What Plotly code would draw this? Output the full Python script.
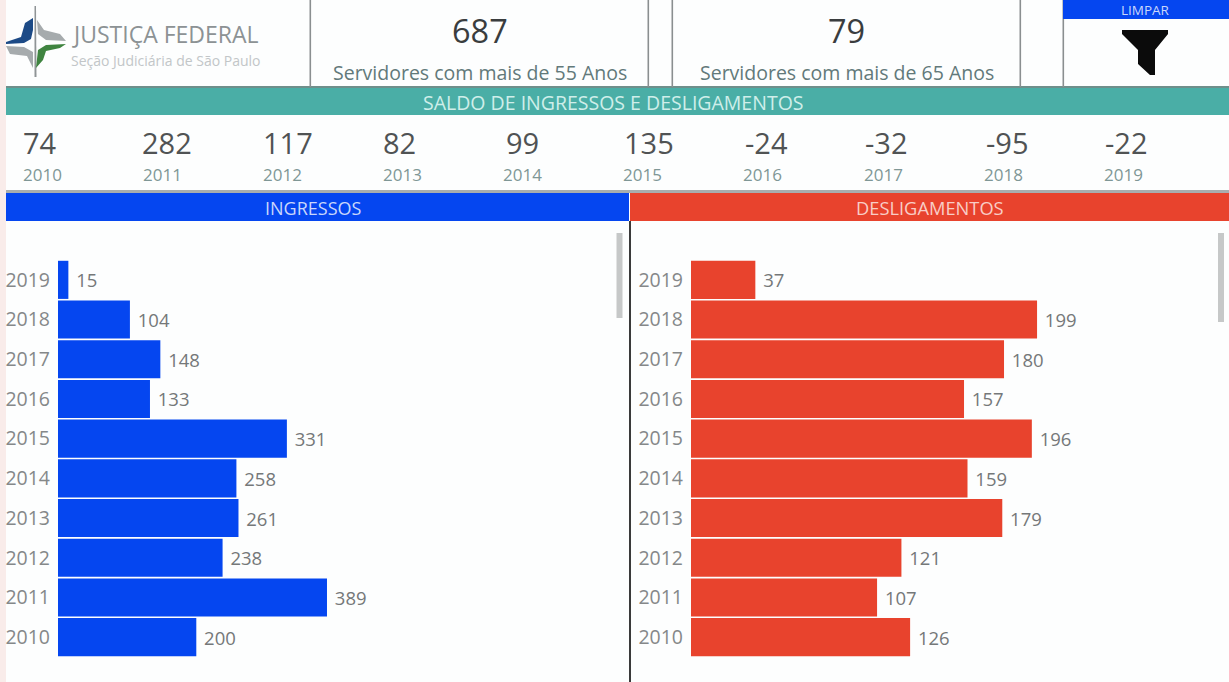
import plotly.graph_objects as go

W, H = 1229, 682

years = ["2010", "2011", "2012", "2013", "2014", "2015", "2016", "2017", "2018", "2019"]
ingressos = [200, 389, 238, 261, 258, 331, 133, 148, 104, 15]
desligamentos = [126, 107, 121, 179, 159, 196, 157, 180, 199, 37]
saldo = [74, 282, 117, 82, 99, 135, -24, -32, -95, -22]

FONT = "Open Sans"
BLUE = "#0546f0"
RED = "#e8432d"
TEAL = "#4aaea6"
BG = "#fdfefe"


def px(x):
    return x / W


def py(y):
    return 1 - y / H


shapes, annotations = [], []


def rect(x0, y0, x1, y1, fill):
    shapes.append(dict(type="rect", xref="paper", yref="paper", x0=px(x0), x1=px(x1),
                       y0=py(y1), y1=py(y0), fillcolor=fill, line_width=0, layer="below"))


def path(points, fill):
    d = "M " + " L ".join(f"{px(a):.5f},{py(b):.5f}" for a, b in points) + " Z"
    shapes.append(dict(type="path", xref="paper", yref="paper", path=d, fillcolor=fill,
                       line_width=0, layer="above"))


def text(x, y, s, size, color, anchor="center"):
    annotations.append(dict(xref="paper", yref="paper", x=px(x), y=py(y), text=s, showarrow=False,
                            xanchor=anchor, yanchor="middle",
                            font=dict(family=FONT, size=size, color=color)))


# page strip and bands
rect(0, 0, 6, H, "#f9ecea")
rect(6, 88, W, 115, TEAL)
rect(6, 86, W, 88, "#6f8f8b")
rect(6, 190, W, 193, "#a9aeae")
rect(6, 193, 629, 221, BLUE)
rect(630, 193, W, 221, RED)

# header boxes
for x in (309.5, 647.5, 671.5, 1019.5, 1062.5):
    rect(x, 0, x + 1.6, 87, "#8a8f90")
rect(1063, 0, W, 19, BLUE)
rect(629, 221, 631, H, "#3a3a3a")

# scrollbars
rect(616.5, 233, 622.5, 318, "#c6c8c8")
rect(1218, 233, 1224, 322, "#c6c8c8")

# logo
path([(34.5, 6), (36, 6), (36.5, 77), (34.5, 77)], "#8f9496")
path([(33, 18), (25, 23), (21, 37), (6, 42), (6, 44), (24, 43), (31, 39), (33, 30)], "#1c4a86")
path([(37, 20), (38, 34), (46, 40), (66, 41), (60, 34), (44, 30)], "#a6abad")
path([(66, 44), (46, 45), (38, 50), (36, 68), (43, 60), (46, 51), (60, 48)], "#3f8440")
path([(6, 46), (24, 47), (33, 52), (33, 68), (27, 56), (10, 54)], "#a6abad")
text(70, 34, "JUSTIÇA FEDERAL", 23, "#8c9294", "left")
text(69, 60, "Seção Judiciária de São Paulo", 14, "#c2c6c8", "left")

# KPI cards
text(480, 31, "687", 32.5, "#3a3d3e")
text(480, 72, "Servidores com mais de 55 Anos", 19.5, "#62797a")
text(846, 31, "79", 32.5, "#3a3d3e")
text(847, 72, "Servidores com mais de 65 Anos", 19.5, "#62797a")
text(1145, 10, "LIMPAR", 13.5, "#c9d6fb")
path([(1122, 30), (1168, 30), (1168, 34), (1155, 50), (1155, 75), (1150, 75), (1138, 64), (1138, 50), (1122, 34)], "#0b0b0b")

# band titles
text(613, 103, "SALDO DE INGRESSOS E DESLIGAMENTOS", 19.5, "#cfeeea")
text(313, 208, "INGRESSOS", 18, "#c9d6fb")
text(930, 208, "DESLIGAMENTOS", 18.3, "#f8cdc6")

# balance row
saldo_x = [40, 167, 288, 399, 522, 649, 766, 886, 1007, 1126]
year_x = [42, 162, 282, 402, 522, 642, 762, 883, 1003, 1123]
for v, y, xv, xy in zip(saldo, years, saldo_x, year_x):
    text(xv, 142, str(v), 29, "#505354")
    text(xy, 174, y, 17, "#7f9796")

fig = go.Figure()
LABEL = dict(family=FONT, size=18.5, color="#757879")
fig.add_trace(go.Bar(x=ingressos, y=years, orientation="h", marker=dict(color=BLUE, line_width=0),
                     text=["\u00a0" + str(v) for v in ingressos], textposition="outside",
                     textfont=LABEL, cliponaxis=False, xaxis="x", yaxis="y", showlegend=False))
fig.add_trace(go.Bar(x=desligamentos, y=years, orientation="h", marker=dict(color=RED, line_width=0),
                     text=["\u00a0" + str(v) for v in desligamentos], textposition="outside",
                     textfont=LABEL, cliponaxis=False, xaxis="x2", yaxis="y2", showlegend=False))

yaxis_common = dict(type="category", categoryorder="array", categoryarray=years,
                    domain=[py(657), py(260)], showgrid=False, zeroline=False, showline=False,
                    ticks="", ticklabelstandoff=7,
                    tickfont=dict(family=FONT, size=19.5, color="#858889"))
xaxis_common = dict(showgrid=False, zeroline=False, showline=False, showticklabels=False, ticks="")

fig.update_layout(
    width=W, height=H, margin=dict(l=0, r=0, t=0, b=0), autosize=False,
    paper_bgcolor=BG, plot_bgcolor=BG, bargap=0.04,
    xaxis=dict(domain=[px(58), px(610)], range=[0, 552 / 0.6915], anchor="y", **xaxis_common),
    xaxis2=dict(domain=[px(691), px(1210)], range=[0, 519 / 1.739], anchor="y2", **xaxis_common),
    yaxis=dict(anchor="x", **yaxis_common),
    yaxis2=dict(anchor="x2", **yaxis_common),
    shapes=shapes, annotations=annotations,
)

fig.write_html("out.html", config=dict(displayModeBar=False),
               post_script="document.body.style.margin='0';document.body.style.overflow='hidden';")
